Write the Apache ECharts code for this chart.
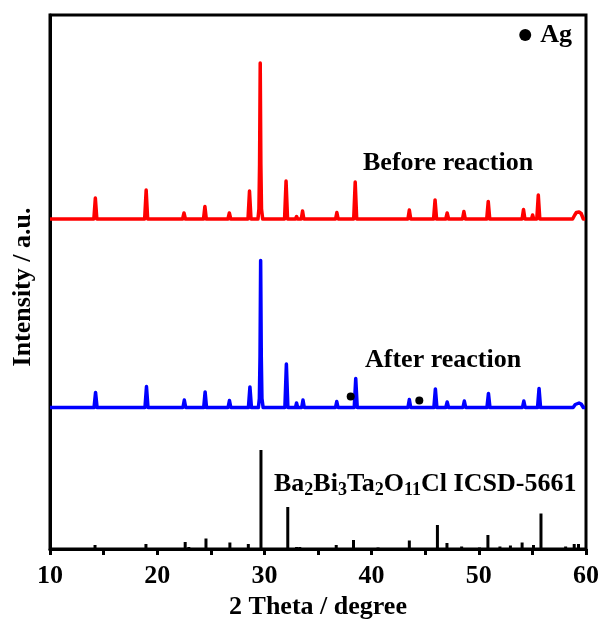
<!DOCTYPE html>
<html>
<head>
<meta charset="utf-8">
<script src="https://cdn.jsdelivr.net/npm/echarts@6/dist/echarts.min.js"></script>
<style>
  html, body { margin: 0; padding: 0; background: #fff; }
  #chart { width: 603px; height: 624px; }
</style>
</head>
<body>
<div id="chart"></div>
<script>
// XRD patterns of Ba2Bi3Ta2O11Cl before and after the photocatalytic reaction

// Before reaction: 2θ (degree) and intensity above its own baseline (a.u.)
const before2Theta = [
  10.00, 14.09, 14.23, 14.37, 18.83, 18.97, 19.11, 22.37, 22.50, 22.63,
  24.32, 24.45, 24.58, 26.60, 26.73, 26.86, 28.47, 28.61, 28.75, 29.40,
  29.49, 29.55, 29.61, 29.67, 29.73, 29.84, 31.88, 32.02, 32.16, 32.90,
  33.00, 33.10, 33.44, 33.56, 33.68, 36.64, 36.76, 36.88, 38.33, 38.47,
  38.61, 43.39, 43.52, 43.65, 45.78, 45.92, 46.06, 46.92, 47.05, 47.18,
  48.48, 48.61, 48.74, 50.74, 50.88, 51.02, 52.60, 52.70, 52.80, 54.04,
  54.17, 54.30, 54.92, 55.02, 55.12, 55.41, 55.55, 55.69, 58.75, 58.95,
  59.10, 59.35, 59.55, 59.75, 59.92
];
const beforeIntensity = [
  0, 0, 21, 0, 0, 29, 0, 0, 6, 0,
  0, 12.5, 0, 0, 6, 0, 0, 28, 0, 0,
  10, 55, 156, 55, 10, 0, 0, 38, 0, 0,
  2.5, 0, 0, 8, 0, 0, 6.5, 0, 0, 37,
  0, 0, 9, 0, 0, 19, 0, 0, 6, 0,
  0, 7.5, 0, 0, 17.5, 0, 0, 1.5, 0, 0,
  9.5, 0, 0, 4, 0, 0, 24, 0, 0, 4,
  6.5, 7, 5.5, 0, 0
];

// After reaction
const after2Theta = [
  10.00, 14.11, 14.25, 14.39, 18.86, 19.00, 19.14, 22.40, 22.53, 22.66,
  24.34, 24.47, 24.60, 26.61, 26.74, 26.87, 28.51, 28.65, 28.79, 29.44,
  29.53, 29.59, 29.65, 29.71, 29.77, 29.88, 31.91, 32.05, 32.19, 32.90,
  33.00, 33.10, 33.48, 33.60, 33.72, 36.63, 36.75, 36.87, 38.38, 38.52,
  38.66, 43.39, 43.52, 43.65, 45.81, 45.95, 46.09, 46.92, 47.05, 47.18,
  48.52, 48.65, 48.78, 50.76, 50.90, 51.04, 52.60, 52.70, 52.80, 54.07,
  54.20, 54.33, 54.90, 55.00, 55.10, 55.48, 55.62, 55.76, 58.80, 59.00,
  59.15, 59.35, 59.55, 59.75, 59.92
];
const afterIntensity = [
  0, 0, 15, 0, 0, 21, 0, 0, 7.5, 0,
  0, 15.5, 0, 0, 7, 0, 0, 20.5, 0, 0,
  9, 50, 147, 50, 9, 0, 0, 43.5, 0, 0,
  4.5, 0, 0, 7.5, 0, 0, 6, 0, 0, 29,
  0, 0, 8, 0, 0, 18.5, 0, 0, 5.5, 0,
  0, 6.5, 0, 0, 14, 0, 0, 2, 0, 0,
  6.5, 0, 0, 2, 0, 0, 19, 0, 0, 3,
  4.5, 4.5, 3.5, 0, 0
];

// Reference pattern Ba2Bi3Ta2O11Cl, ICSD-5661
const ref2Theta = [
  14.20, 18.95, 22.61, 22.95, 24.55, 26.78, 28.50, 29.68, 32.18, 33.00,
  33.30, 36.70, 38.31, 40.60, 43.52, 46.14, 47.03, 48.40, 50.06, 50.85,
  51.97, 52.95, 54.04, 55.10, 55.80, 58.10, 58.90, 59.30
];
const refIntensity = [
  4, 5, 7, 2, 10.5, 6.5, 5, 99, 42, 2,
  2, 4, 9, 1.5, 8.5, 24, 6, 2.5, 1.5, 14,
  2.5, 3.5, 6.5, 4, 35.5, 2.5, 5, 5
];

// Ag reflections found after the reaction (2θ, height above the After baseline)
const ag2Theta = [38.05, 44.45];
const agHeight = [11, 7];

// Vertical offsets used to stack the patterns
const beforeOffset = 330;
const afterOffset = 141.5;

const xTicks = [10, 20, 30, 40, 50, 60];

const FONT = '"Liberation Serif", "Times New Roman", serif';

const pairs = (xs, ys, off) => xs.map((x, i) => [x, ys[i] + off]);

const chart = echarts.init(document.getElementById('chart'), null, { renderer: 'canvas' });

const option = {
  animation: false,
  backgroundColor: '#fff',
  grid: {
    left: 50, right: 17, top: 15, bottom: 75,
    outerBoundsMode: 'none', containLabel: false,
    show: true, borderColor: '#000', borderWidth: 3, backgroundColor: 'transparent'
  },
  legend: {
    data: [{ name: 'Ag', icon: 'circle', itemStyle: { color: '#000', opacity: 1 } }],
    right: 31, top: 22, padding: 0,
    itemWidth: 12, itemHeight: 12,
    textStyle: { fontFamily: FONT, fontSize: 26, fontWeight: 'bold', color: '#000', padding: [0, 0, 0, 4] }
  },
  xAxis: {
    type: 'value',
    min: xTicks[0], max: xTicks[xTicks.length - 1], interval: 10,
    name: '2 Theta / degree', nameLocation: 'middle', nameGap: 44,
    nameTextStyle: { fontFamily: FONT, fontSize: 26, fontWeight: 'bold', color: '#000' },
    axisLine: { show: true, lineStyle: { color: '#000', width: 3 } },
    axisTick: { show: true, inside: false, length: 6, lineStyle: { color: '#000', width: 3 } },
    minorTick: { show: true, splitNumber: 2, length: 6, lineStyle: { color: '#000', width: 3 } },
    splitLine: { show: false },
    axisLabel: { fontFamily: FONT, fontSize: 26, fontWeight: 'bold', color: '#000', margin: 14 }
  },
  yAxis: {
    type: 'value', min: 0, max: 534,
    name: 'Intensity / a.u.', nameLocation: 'middle', nameGap: 14, nameRotate: 90,
    nameTextStyle: { fontFamily: FONT, fontSize: 26, fontWeight: 'bold', color: '#000', padding: [0, 10, 0, 0] },
    axisLine: { show: true, lineStyle: { color: '#000', width: 3 } },
    axisTick: { show: false },
    axisLabel: { show: false },
    splitLine: { show: false }
  },
  series: [
    {
      name: 'Before reaction', type: 'line', data: pairs(before2Theta, beforeIntensity, beforeOffset),
      showSymbol: false, symbol: 'none', smooth: false,
      lineStyle: { color: '#ff0000', width: 3.5, join: 'round' }, z: 3
    },
    {
      name: 'After reaction', type: 'line', data: pairs(after2Theta, afterIntensity, afterOffset),
      showSymbol: false, symbol: 'none', smooth: false,
      lineStyle: { color: '#0000ff', width: 3.5, join: 'round' }, z: 3
    },
    {
      name: 'ICSD-5661', type: 'bar', data: ref2Theta.map((x, i) => [x, refIntensity[i]]),
      barWidth: 3, itemStyle: { color: '#000' }, z: 3
    },
    {
      name: 'Ag', type: 'scatter', data: ag2Theta.map((x, i) => [x, agHeight[i] + afterOffset]),
      symbol: 'circle', symbolSize: 8, itemStyle: { color: '#000', opacity: 1 }, z: 4
    }
  ],
  graphic: [
    {
      type: 'text', left: 363, top: 150,
      style: { text: 'Before reaction', font: 'bold 26px ' + FONT, fill: '#000' }
    },
    {
      type: 'text', left: 365, top: 347,
      style: { text: 'After reaction', font: 'bold 26px ' + FONT, fill: '#000' }
    },
    {
      type: 'text', left: 274, top: 471,
      style: {
        text: '{n|Ba}{s|2}{n|Bi}{s|3}{n|Ta}{s|2}{n|O}{s|11}{n|Cl ICSD-5661}',
        fill: '#000',
        rich: {
          n: { fontFamily: FONT, fontSize: 26, fontWeight: 'bold', lineHeight: 30, fill: '#000' },
          s: { fontFamily: FONT, fontSize: 18, fontWeight: 'bold', lineHeight: 12, verticalAlign: 'bottom', fill: '#000' }
        }
      }
    }
  ]
};

chart.setOption(option);
</script>
</body>
</html>
